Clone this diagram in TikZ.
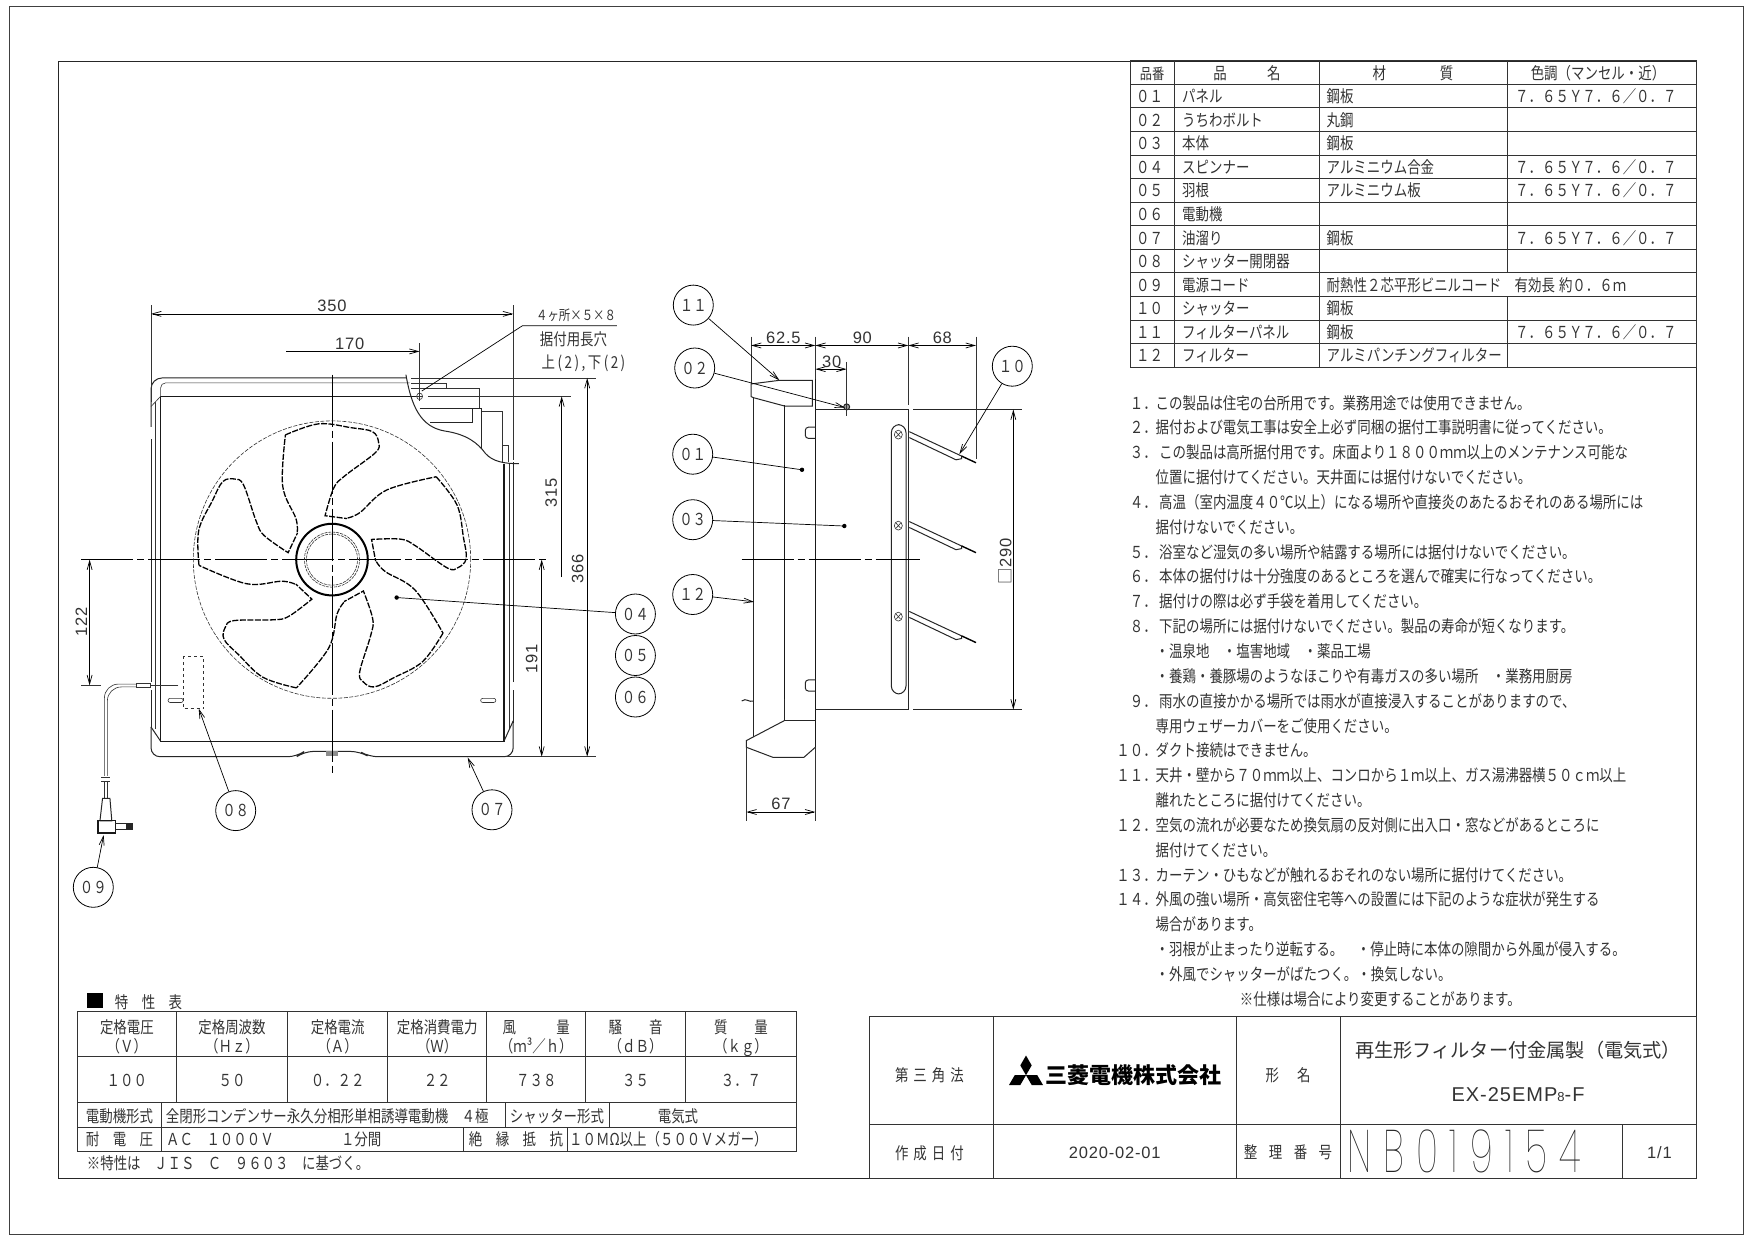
\documentclass[tikz,border=0pt]{standalone}
\usepackage{fontspec}
\usetikzlibrary{arrows.meta,positioning}
\newfontfamily\cadfont[FakeStretch=0.815]{Noto Sans CJK JP}
\newfontfamily\headfont{Noto Sans CJK JP}
\newfontfamily\dimfont[LetterSpace=5]{Liberation Sans}
\newfontfamily\numfont[UprightFont=* Thin,FakeStretch=0.62,LetterSpace=20]{Poppins}
\newcommand{\cadsize}{\cadfont\fontsize{16.5}{18}\selectfont}
\newcommand{\dimsize}{\dimfont\fontsize{16.5}{18}\selectfont}
\tikzset{
	cad/.style={font=\cadsize,inner sep=0pt,yshift=-1.4pt,text=black!80,text height=13pt,text depth=3pt},
	dimtext/.style={font=\dimsize,inner sep=0pt,yshift=-1pt,text=black!80},
	balloon/.style={circle,draw,line width=0.8pt,minimum size=40pt,inner sep=0pt,font=\cadsize,text=black!80},
	grid/.style={line width=1pt,draw=black!80},
	part/.style={line width=1pt,draw=black!85},
	heavy/.style={line width=1.3pt,draw=black!90},
	fine/.style={line width=0.6pt,draw=black!80},
	blade/.style={line width=1.3pt,dash pattern=on 6pt off 1.5pt},
	centerline/.style={line width=0.7pt,dash pattern=on 52pt off 4pt on 7pt off 4pt},
	dimline/.style={line width=0.7pt,<->,>={Straight Barb[length=9pt,width=5pt]}},
	leader/.style={line width=0.7pt,->,>={Straight Barb[length=9pt,width=5pt]}},
	leaderdot/.style={line width=0.7pt},
	frontcs/.style={shift={(60,280)},x=0.36996pt,y=-0.40816pt},
	sidecs/.style={shift={(650,270)},x=0.33333pt,y=-0.36996pt}
}
\begin{document}
\begin{tikzpicture}[x=1pt,y=-1pt]
	\useasboundingbox (0,0) rectangle (1754,1240);
	\fill[white] (0,0) rectangle (1754,1240);
	\draw[line width=1pt,draw=black!75] (9,6) rectangle (1743,1234);
	\draw[line width=1pt,draw=black!85] (58,61) rectangle (1696.5,1178.5);

	% front view
	\begin{scope}[frontcs]
		\draw[part,rounded corners=11pt] (246,360) -- (246,240) -- (935,240);
		\draw[part] (246,390) -- (246,985) (246,1005) -- (246,1095);
		\draw[part,rounded corners=9pt] (246,1095) -- (246,1168) -- (640,1168) -- (660,1155) -- (810,1155) -- (835,1168) -- (1225,1168) -- (1225,1085);
		\draw[part] (1225,1085) -- (1225,1005) (1225,985) -- (1225,445);
		\draw[fine,rounded corners=5pt] (272,285) -- (272,252) -- (945,252);
		\draw[heavy] (272,285) -- (962,285) (272,285) -- (272,1130) -- (1200,1130) -- (1200,450);
		\draw[fine] (258,300) -- (258,1100) (1215,450) -- (1215,1100) (246,310) -- (272,285);
		\draw[part] (246,1095) -- (272,1130) (1225,1080) -- (1200,1130);
		\draw[part] (935,232) .. controls (950,310) and (975,360) .. (1040,370) .. controls (1100,378) and (1130,400) .. (1150,425) .. controls (1170,445) and (1200,450) .. (1240,450);
		\draw[fine] (950,252) -- (1043,252) -- (1043,265) -- (950,265) (950,265) -- (1133,265) -- (1133,315);
		\draw[part] (972,315) -- (1115,315) -- (1115,348) -- (1000,348) (1115,315) -- (1140,315) -- (1140,415);
		\draw[fine] (1140,322) -- (1196,322) -- (1196,447) (1196,405) -- (1213,405) -- (1213,447);
		\draw[fine] (972,275) -- (972,296) (962,285) -- (982,285);
		\draw[fine] (972,285) ellipse (8 and 8);
		\draw[fine,rounded corners=2pt] (292,1025) rectangle (333,1035) (1137,1025) rectangle (1178,1035);
		\draw[fine,dashed] (332,922) rectangle (388,1050);
		\fill[black!45] (718,1155) rectangle (752,1165);

		% cord and plug
		\draw[fine] (320,993) -- (245,993);
		\draw[fine] (205,988) rectangle (245,998);
		\draw[fine,rounded corners=14pt] (205,990) -- (120,990) -- (120,1215) (205,997) -- (128,997) -- (128,1215);
		\draw[fine] (112,1218) -- (135,1218) (112,1228) -- (135,1228) (120,1228) -- (120,1270) (128,1228) -- (128,1270);
		\draw[part] (115,1270) -- (135,1270) -- (140,1325) -- (108,1325) -- cycle;
		\draw[heavy] (103,1325) rectangle (150,1355);
		\draw[part] (150,1332) -- (195,1332) -- (195,1346) -- (150,1346);
		\fill[black!85] (178,1332) rectangle (195,1346);

		% centre lines
		\draw[centerline] (58,685) -- (1325,685) (735,232) -- (735,1208);

		% dimensions
		\draw[fine] (246,62) -- (246,300) (1225,62) -- (1225,440) (972,155) -- (972,275);
		\draw[fine] (950,240) -- (1448,240) (1205,1168) -- (1448,1168) (995,285) -- (1380,285);
		\draw[fine] (58,993) -- (110,993);
		\draw[dimline] (246,83) -- (1225,83);
		\draw[leader] (612,175) -- (972,175);
		\draw[dimline] (1425,240) -- (1425,1168);
		\draw[leader] (1356,728) -- (1356,285);
		\draw[dimline] (1302,685) -- (1302,1168);
		\draw[dimline] (80,685) -- (80,993);
		\node[dimtext] (d350) at (735,62) {350};
		\node[dimtext] (d170) at (783,153) {170};
		\node[dimtext,rotate=90] (d366) at (1399,705) {366};
		\node[dimtext,rotate=90] (d315) at (1328,518) {315};
		\node[dimtext,rotate=90] (d191) at (1275,925) {191};
		\node[dimtext,rotate=90] (d122) at (58,835) {122};

		% slot note
		\coordinate (tslot) at (978,272);
		\coordinate (kslot) at (1250,112);
		\coordinate (eslot) at (1505,112);
		\draw[leaderdot] (tslot) -- (kslot) -- (eslot);
		\node[dimtext] (slota) at (1395,85) {\cadfont\fontsize{14}{16}\selectfont ４ヶ所×５×８};
		\node[cad] (slotb) at (1388,145) {据付用長穴};
		\node[cad] (slotc) at (1415,200) {\addfontfeature{LetterSpace=15}上(2),下(2)};

		\coordinate (t04) at (910,778);
		\coordinate (t07) at (1102,1170);
		\coordinate (t08) at (375,1050);
		\coordinate (t09) at (118,1360);
	\end{scope}

	% fan
	\begin{scope}[shift={(332,559.6)}]
		\draw[fine,dash pattern=on 4pt off 1.5pt] (0,0) circle (138.7pt);
		\draw[line width=2pt] (0,0) circle (35.8pt);
		\draw[fine,dash pattern=on 3pt off 1pt] (0,0) circle (27.6pt);
		\draw[fine,dash pattern=on 3pt off 1pt] (0,0) circle (25.6pt);
		\foreach \i in {0,...,4} {
			\begin{scope}[rotate=-72*\i]
				\draw[blade] plot[smooth,tension=0.6] coordinates {(44.4,2) (53.6,12.2) (83.2,30.6) (111,73.5)};
				\draw[blade] plot[smooth,tension=0.6] coordinates {(111,73.5) (90.6,102) (62,118) (42.5,127.3) (31.4,122.4) (27.7,112.2) (38.8,75.5) (40.7,59.2) (31.4,31.4)} -- (12,42);
			\end{scope}
		}
	\end{scope}

	% side view
	\begin{scope}[sidecs]
		\draw[part] (311,345) -- (311,1262);
		\draw[heavy] (403,365) -- (403,1160);
		\draw[part] (403,1160) -- (403,1218) -- (496,1218);
		\draw[heavy] (496,295) -- (496,1290);
		\draw[part] (303,342) -- (303,308) -- (390,298) -- (487,298) -- (487,368) -- (405,368) -- (310,345) -- cycle;
		\draw[part] (496,377) -- (775,377) (496,1188) -- (775,1188);
		\draw[part] (775,377) -- (775,1188);
		\draw[part] (790,377) -- (1115,377) (790,1188) -- (1115,1188);
		\draw[part,rounded corners=3pt] (496,425) -- (466,425) -- (466,455) -- (496,455);
		\draw[part,rounded corners=3pt] (496,1108) -- (466,1108) -- (466,1138) -- (496,1138);
		\draw[part] (403,1218) -- (289,1272) -- (289,1290) -- (368,1317) -- (462,1317) -- (496,1290);
		\draw[part,rounded corners=8pt] (724,418) rectangle (768,1146);
		\foreach \sy/\dy in {445/0,691/243,937/486} {
			\draw[fine] (745,\sy) ellipse (12 and 12);
			\draw[fine] (738,\sy-7) -- (752,\sy+7) (738,\sy+7) -- (752,\sy-7);
			\draw[part] (778,437+\dy) -- (935,503+\dy) -- (935,510+\dy) -- (918,513+\dy) -- (778,453+\dy);
			\draw[line width=1.4pt] (935,503+\dy) -- (978,521+\dy);
		}
		\draw[centerline] (275,782) -- (810,782);
		\draw[part] (275,1165) .. controls (290,1155) and (295,1170) .. (311,1165);
		\draw[part,fill=black!40] (590,370) circle (3pt);
		\draw[fine] (590,248) -- (590,395);

		% dimensions
		\draw[fine] (303,180) -- (303,308) (496,180) -- (496,295) (775,180) -- (775,365) (978,180) -- (978,510);
		\draw[fine] (289,1290) -- (289,1490) (496,1290) -- (496,1490);
		\draw[dimline] (303,204) -- (496,204);
		\draw[dimline] (496,204) -- (775,204);
		\draw[dimline] (775,204) -- (978,204);
		\draw[dimline] (496,268) -- (590,268);
		\draw[dimline] (289,1465) -- (496,1465);
		\draw[dimline] (1090,377) -- (1090,1188);
		\node[dimtext] (d625) at (400,180) {62.5};
		\node[dimtext] (d90) at (637,180) {90};
		\node[dimtext] (d68) at (877,180) {68};
		\node[dimtext] (d30) at (545,245) {30};
		\node[dimtext] (d67) at (393,1440) {67};
		\node[dimtext,rotate=90] (d290) at (1065,785) {{\headfont □}290};

		\coordinate (t11) at (388,298);
		\coordinate (t02) at (585,372);
		\coordinate (t01) at (456,540);
		\coordinate (t03) at (583,692);
		\coordinate (t12) at (312,897);
		\coordinate (t10) at (928,498);
	\end{scope}

	% balloons
	\node[balloon] (b11) at (693.3,305.1) {１１};
	\node[balloon] (b02) at (694.7,368) {０２};
	\node[balloon] (b01) at (692.7,454.2) {０１};
	\node[balloon] (b03) at (692.7,519.7) {０３};
	\node[balloon] (b12) at (692.7,594.5) {１２};
	\node[balloon] (b10) at (1012.3,366.2) {１０};
	\node[balloon] (b04) at (635.4,614) {０４};
	\node[balloon,node distance=41.5pt] (b05) [below of=b04] {０５};
	\node[balloon,node distance=41.5pt] (b06) [below of=b05] {０６};
	\node[balloon] (b08) at (235.7,810.6) {０８};
	\node[balloon] (b07) at (492,809.8) {０７};
	\node[balloon] (b09) at (93.3,887.3) {０９};
	\foreach \b in {11,02,12,10,07,08,09}
		\draw[leader] (b\b) -- (t\b);
	\foreach \b in {01,03,04} {
		\draw[leaderdot] (b\b) -- (t\b);
		\fill (t\b) circle (2.2pt);
	}

	% parts table
	\draw[grid] (1130.7,60.7) rectangle (1696.5,367.3);
	\foreach \r in {0,...,11}
		\draw[grid] (1130.7,{84.3+23.58*\r}) -- (1696.5,{84.3+23.58*\r});
	\draw[grid] (1174.3,60.7) -- (1174.3,367.3) (1319.4,60.7) -- (1319.4,367.3);
	\draw[grid] (1507.3,60.7) -- (1507.3,273) (1507.3,296.7) -- (1507.3,367.3);
	\node[cad] (hno) at (1152,73) {\fontsize{15}{16}\selectfont 品番};
	\node[cad] (hname) at (1247,73) {品　　　名};
	\node[cad] (hmat) at (1413,73) {材　　　　質};
	\node[cad] (hcol) at (1598,73) {色調（マンセル・近）};
	\foreach \no/\pn/\mt [count=\i] in {
		０１/パネル/鋼板,
		０２/うちわボルト/丸鋼,
		０３/本体/鋼板,
		０４/スピンナー/アルミニウム合金,
		０５/羽根/アルミニウム板,
		０６/電動機/,
		０７/油溜り/鋼板,
		０８/シャッター開閉器/,
		０９/電源コード/耐熱性２芯平形ビニルコード　有効長\hskip4pt約０．６ｍ,
		１０/シャッター/鋼板,
		１１/フィルターパネル/鋼板,
		１２/フィルター/アルミパンチングフィルター} {
		\node[cad,anchor=west] (no\i) at (1136,{72.6+23.58*\i}) {\no};
		\node[cad,anchor=west] (name\i) at (1182,{72.6+23.58*\i}) {\pn};
		\node[cad,anchor=west] (mat\i) at (1326.5,{72.6+23.58*\i}) {\mt};
	}
	\foreach \i in {1,4,5,7,11}
		\node[cad,anchor=west] (col\i) at (1515,{72.6+23.58*\i}) {７．６５Ｙ７．６／０．７};

	% notes
	\foreach \nx/\ntext [count=\i] in {
		1155.5/この製品は住宅の台所用です。業務用途では使用できません。,
		1155.5/据付および電気工事は安全上必ず同梱の据付工事説明書に従ってください。,
		1159/この製品は高所据付用です。床面より１８００ｍｍ以上のメンテナンス可能な,
		1155.5/位置に据付けてください。天井面には据付けないでください。,
		1159/高温（室内温度４０℃以上）になる場所や直接炎のあたるおそれのある場所には,
		1155.5/据付けないでください。,
		1159/浴室など湿気の多い場所や結露する場所には据付けないでください。,
		1159/本体の据付けは十分強度のあるところを選んで確実に行なってください。,
		1159/据付けの際は必ず手袋を着用してください。,
		1159/下記の場所には据付けないでください。製品の寿命が短くなります。,
		1155.5/・温泉地　・塩害地域　・薬品工場,
		1155.5/・養鶏・養豚場のようなほこりや有毒ガスの多い場所　・業務用厨房,
		1159/雨水の直接かかる場所では雨水が直接浸入することがありますので、,
		1155.5/専用ウェザーカバーをご使用ください。,
		1155.5/ダクト接続はできません。,
		1155.5/天井・壁から７０ｍｍ以上、コンロから１ｍ以上、ガス湯沸器横５０ｃｍ以上,
		1155.5/離れたところに据付けてください。,
		1155.5/空気の流れが必要なため換気扇の反対側に出入口・窓などがあるところに,
		1155.5/据付けてください。,
		1155.5/カーテン・ひもなどが触れるおそれのない場所に据付けてください。,
		1155.5/外風の強い場所・高気密住宅等への設置には下記のような症状が発生する,
		1155.5/場合があります。,
		1155.5/・羽根が止まったり逆転する。　・停止時に本体の隙間から外風が侵入する。,
		1155.5/・外風でシャッターがばたつく。・換気しない。,
		1239.7/※仕様は場合により変更することがあります。}
		\node[cad,anchor=west] (note\i) at (\nx,{402.7+24.84*(\i-1)}) {\ntext};
	\foreach \num/\r in {１/1,２/2,３/3,４/5,５/7,６/8,７/9,８/10,９/13,１０/15,１１/16,１２/18,１３/20,１４/21}
		\node[cad,anchor=east] (num\r) at (1157,{402.7+24.84*(\r-1)}) {\num．};

	% ratings table
	\node[cad] (ratetitle) at (148.5,1001.7) {特　性　表};
	\fill[black] (86.7,992.7) rectangle (102.7,1008.3);
	\draw[grid] (77.5,1011.7) rectangle (796.8,1151.3);
	\draw[grid] (77.5,1056.7) -- (796.8,1056.7) (77.5,1102.7) -- (796.8,1102.7) (77.5,1127.3) -- (796.8,1127.3);
	\foreach \x in {176.3,287.8,387.7,486.6,585.9,685.3}
		\draw[grid] (\x,1011.7) -- (\x,1102.7);
	\draw[grid] (161.8,1102.7) -- (161.8,1151.3) (505,1102.7) -- (505,1127.3) (609.2,1102.7) -- (609.2,1127.3) (463.8,1127.3) -- (463.8,1151.3) (567.5,1127.3) -- (567.5,1151.3);
	\foreach \cx/\ha/\hb/\va [count=\i] in {
		126.9/定格電圧/（Ｖ）/１００,
		232/定格周波数/（Ｈｚ）/５０,
		337.7/定格電流/（Ａ）/０．２２,
		437.2/定格消費電力/（Ｗ）/２２,
		536.3/風　　　量/（ｍ³／ｈ）/７３８,
		635.6/騒　　音/（ｄＢ）/３５,
		741/質　　量/（ｋｇ）/３．７} {
		\node[cad] (ha\i) at (\cx,1026.7) {\ha};
		\node[cad] (hb\i) at (\cx,1046) {\hb};
		\node[cad] (va\i) at (\cx,1080) {\va};
	}
	\node[cad] (motorh) at (119.5,1116) {電動機形式};
	\node[cad,anchor=west] (motorv) at (165.7,1116) {全閉形コンデンサー永久分相形単相誘導電動機　４極};
	\node[cad] (shuth) at (557,1116) {シャッター形式};
	\node[cad] (shutv) at (678,1116) {電気式};
	\node[cad] (volth) at (119.5,1139.3) {耐　電　圧};
	\node[cad,anchor=west] (voltv) at (166,1139.3) {ＡＣ　１０００Ｖ　　　　　１分間};
	\node[cad] (insh) at (516,1139.3) {絶　縁　抵　抗};
	\node[cad,anchor=west] (insv) at (569,1139.3) {１０ＭΩ以上（５００Ｖメガー）};
	\node[cad,anchor=west] (ratefoot) at (86.7,1162.7) {※特性は　ＪＩＳ　Ｃ　９６０３　に基づく。};

	% title block
	\draw[grid] (869.2,1016.7) rectangle (1696.5,1178.5);
	\draw[grid] (869.2,1124.3) -- (1696.5,1124.3);
	\foreach \x in {993.3,1236.7,1340.2}
		\draw[grid] (\x,1016.7) -- (\x,1178.5);
	\draw[grid] (1622,1124.3) -- (1622,1178.5);
	\node[cad] (projn) at (929.4,1075) {第\hskip5pt 三\hskip5pt 角\hskip5pt 法};
	\node[cad] (dateh) at (929.4,1153.3) {作\hskip5pt 成\hskip5pt 日\hskip5pt 付};
	\node[dimtext] (datev) at (1114.7,1152) {2020-02-01};
	\fill[black] (1026,1075.2) -- (1031.7,1065.4) -- (1026,1055.5) -- (1020.3,1065.4) -- cycle;
	\fill[black] (1026,1075.2) -- (1014.7,1075.2) -- (1009,1085) -- (1020.3,1085) -- cycle;
	\fill[black] (1026,1075.2) -- (1037.3,1075.2) -- (1043,1085) -- (1031.7,1085) -- cycle;
	\node[inner sep=0pt,text=black,font=\headfont\bfseries\fontsize{22}{24}\selectfont] (maker) at (1133,1075) {三菱電機株式会社};
	\node[cad] (typeh) at (1288,1075) {形\hskip18pt 名};
	\node[inner sep=0pt,text=black!80,font=\headfont\fontsize{19.2}{20}\selectfont] (typea) at (1518,1050) {再生形フィルター付金属製（電気式）};
	\node[dimtext] (typeb) at (1518,1093.3) {\fontsize{20}{22}\selectfont EX-25EMP{\fontsize{13}{14}\selectfont 8}-F};
	\node[cad] (regh) at (1288,1151.7) {整\hskip11.5pt 理\hskip11.5pt 番\hskip11.5pt 号};
	\node[inner sep=0pt,text=black!85,anchor=west,font=\numfont\fontsize{60}{62}\selectfont] (regno) at (1347,1151) {NB019154};
	\node[dimtext] (sheet) at (1659.5,1151.7) {1/1};
\end{tikzpicture}
\end{document}
